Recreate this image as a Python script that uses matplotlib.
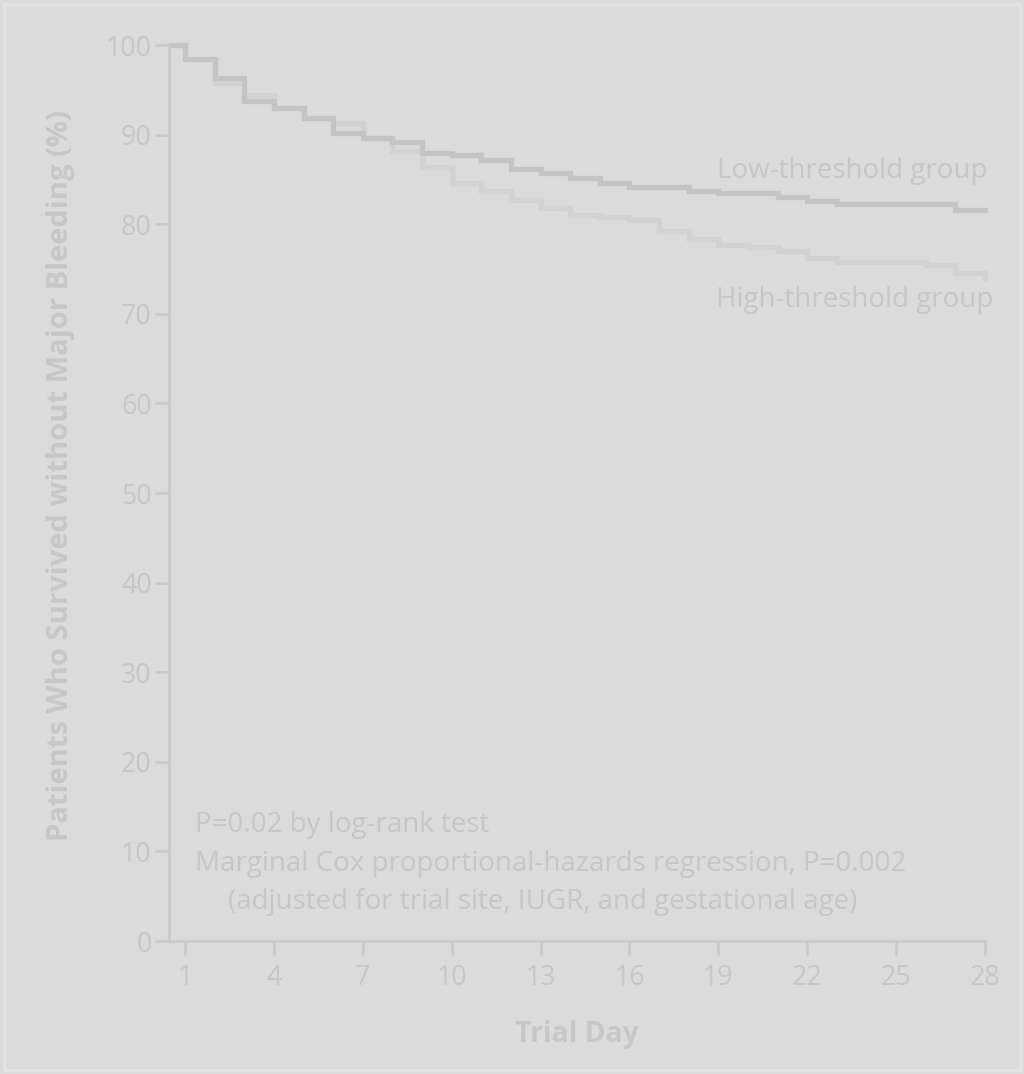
import matplotlib
matplotlib.use("Agg")
import matplotlib.pyplot as plt
from matplotlib.patches import Rectangle

# Kaplan-Meier estimates (%) on each interval [day, day+1)
days = list(range(0, 29))
low_threshold = [100, 98.4, 96.35, 93.8, 93.0, 91.9, 90.2, 89.6, 89.2, 88.0,
                 87.7, 87.2, 86.2, 85.7, 85.2, 84.6, 84.1, 84.1, 83.7, 83.5,
                 83.5, 83.0, 82.6, 82.3, 82.3, 82.3, 82.3, 81.6, 81.6]
high_threshold = [100, 98.4, 95.8, 94.4, 93.0, 91.9, 91.3, 89.6, 88.2, 86.4,
                  84.6, 83.7, 82.7, 81.8, 81.0, 80.8, 80.5, 79.2, 78.4, 77.7,
                  77.4, 77.0, 76.2, 75.8, 75.8, 75.8, 75.4, 74.6, 74.0]

x_ticks = [1, 4, 7, 10, 13, 16, 19, 22, 25, 28]
y_ticks = [0, 10, 20, 30, 40, 50, 60, 70, 80, 90, 100]

group_labels = ["Low-threshold group", "High-threshold group"]
stats_lines = ["P=0.02 by log-rank test",
               "Marginal Cox proportional-hazards regression, P=0.002",
               "(adjusted for trial site, IUGR, and gestational age)"]

BG = "#dbdbdb"
TXT = "#c7c7c7"
AX = "#c9c9c9"
LOW_C = "#c4c4c4"
HIGH_C = "#d1d3d3"

plt.rcParams["font.family"] = ["Open Sans", "DejaVu Sans"]

W, H = 1024, 1074
fig = plt.figure(figsize=(W / 100, H / 100), dpi=100, facecolor=BG)

# light frame around the panel
fig.patches.append(Rectangle((4 / W, 4 / H), 1 - 8 / W, 1 - 8 / H,
                             transform=fig.transFigure, fill=False,
                             edgecolor="#e3e3e3", linewidth=2.5))

x0, x1 = 169, 985
y0, y1 = 941, 45
ax = fig.add_axes([x0 / W, 1 - y0 / H, (x1 - x0) / W, (y0 - y1) / H])
ax.set_facecolor(BG)

ax.set_xlim(0.46, 28)
ax.set_ylim(0, 100)

# clip the curves at the y-axis but let the thick lines overhang top/right
clip = Rectangle((0, -0.02), 1.02, 1.04, transform=ax.transAxes,
                 facecolor="none", edgecolor="none")
ax.add_patch(clip)
for vals, col, z in [(low_threshold, LOW_C, 3), (high_threshold, HIGH_C, 2)]:
    (ln,) = ax.step(days, vals, where="post", color=col, lw=3.8,
                    solid_joinstyle="miter", zorder=z)
    ln.set_clip_path(clip)

for side in ["top", "right"]:
    ax.spines[side].set_visible(False)
for side in ["left", "bottom"]:
    ax.spines[side].set_color(AX)
    ax.spines[side].set_linewidth(1.8)
    ax.spines[side].set_zorder(5)

ax.set_xticks(x_ticks)
ax.set_yticks(y_ticks)
ax.set_yticklabels([str(v) for v in y_ticks])
ax.tick_params(axis="both", colors=AX, labelcolor=TXT, labelsize=19.3,
               width=1.8, length=10, direction="out")
ax.tick_params(axis="x", pad=6.5)
ax.tick_params(axis="y", pad=2.5)

ax.set_xlabel("Trial Day", fontsize=20.3, fontweight="bold", color=TXT,
              labelpad=20)
ax.set_ylabel("Patients Who Survived without Major Bleeding (%)",
              fontsize=21, fontweight="bold", color=TXT, labelpad=22)
ax.yaxis.label.set_y(0.519)

FS = 20
ax.text(28.07, 85.2, group_labels[0], ha="right", va="baseline",
        fontsize=FS, color=TXT, clip_on=False)
ax.text(28.27, 70.8, group_labels[1], ha="right", va="baseline",
        fontsize=FS, color=TXT, clip_on=False)

ax.text(1.34, 12.2, stats_lines[0], ha="left", va="baseline", fontsize=FS,
        color=TXT)
ax.text(1.34, 7.8, stats_lines[1], ha="left", va="baseline", fontsize=FS,
        color=TXT)
ax.text(2.45, 3.6, stats_lines[2], ha="left", va="baseline", fontsize=FS,
        color=TXT)

fig.savefig("out.png", dpi=100, facecolor=BG)
